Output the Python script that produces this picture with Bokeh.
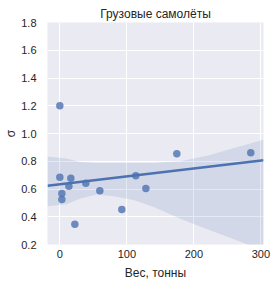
from bokeh.plotting import figure
from bokeh.models import ColumnDataSource, Range1d, FixedTicker
from bokeh.embed import file_html
from bokeh.resources import INLINE

# --- data ---
weight_t = [0, 0, 3, 3, 13.5, 16.4, 22.4, 38.8, 59.7, 92.5, 113.4, 128.4, 174.6, 285]
sigma = [1.20, 0.684, 0.567, 0.524, 0.620, 0.677, 0.346, 0.641, 0.588, 0.452, 0.696, 0.603, 0.854, 0.861]

fit_x = [-18.4, 304]
fit_y = [0.624, 0.808]

band_x = [-18.4, 10, 30, 55, 80, 110, 140, 180, 220, 260, 304]
band_upper = [0.835, 0.82, 0.795, 0.788, 0.787, 0.787, 0.788, 0.80, 0.84, 0.895, 0.955]
band_lower = [0.475, 0.49, 0.53, 0.56, 0.548, 0.52, 0.47, 0.385, 0.31, 0.237, 0.156]

x_ticks = [0, 100, 200, 300]
y_ticks = [0.2, 0.4, 0.6, 0.8, 1.0, 1.2, 1.4, 1.6, 1.8]

title_text = "Грузовые самолёты"
x_label = "Вес, тонны"
y_label = "σ"

BLUE = "#4C72B0"
TXT = "#262626"
FONT = "Liberation Sans"

p = figure(width=276, height=284, output_backend="svg", toolbar_location=None,
           x_range=Range1d(-18.4, 304), y_range=Range1d(0.2, 1.8),
           min_border_left=47, min_border_right=13, min_border_top=22, min_border_bottom=40,
           title=title_text)
p.background_fill_color = "#EAEAF2"
p.border_fill_color = "white"
p.outline_line_color = None

p.title.align = "center"
p.title.text_font = FONT
p.title.text_font_size = "12px"
p.title.text_font_style = "normal"
p.title.text_color = TXT
p.title.offset = 0
p.title.standoff = 4

for ax in (p.xaxis[0], p.yaxis[0]):
    ax.axis_line_color = None
    ax.major_tick_line_color = None
    ax.minor_tick_line_color = None
    ax.major_tick_out = 0
    ax.major_tick_in = 0
    ax.major_label_text_font = FONT
    ax.major_label_text_font_size = "11px"
    ax.major_label_text_color = TXT
    ax.axis_label_text_font = FONT
    ax.axis_label_text_font_size = "12px"
    ax.axis_label_text_font_style = "normal"
    ax.axis_label_text_color = TXT

p.xaxis.ticker = FixedTicker(ticks=x_ticks)
p.yaxis.ticker = FixedTicker(ticks=y_ticks)
p.yaxis.major_label_overrides = {t: f"{t:.1f}" for t in y_ticks}
p.xaxis.axis_label = x_label
p.yaxis.axis_label = y_label
p.xaxis.major_label_standoff = 5
p.yaxis.major_label_standoff = 11
p.xaxis.axis_label_standoff = 5
p.yaxis.axis_label_standoff = 0

p.xgrid.ticker = FixedTicker(ticks=x_ticks)
p.ygrid.ticker = FixedTicker(ticks=y_ticks)
p.grid.grid_line_color = "white"
p.grid.grid_line_width = 1

band_src = ColumnDataSource(dict(x=band_x, lo=band_lower, hi=band_upper))
p.varea(x="x", y1="lo", y2="hi", source=band_src, fill_color=BLUE, fill_alpha=0.15)

p.scatter(weight_t, sigma, size=7.5, fill_color=BLUE, fill_alpha=0.8, line_color=None)
p.line(fit_x, fit_y, line_color=BLUE, line_width=2.5)

open("out.html", "w").write(file_html(p, INLINE))
